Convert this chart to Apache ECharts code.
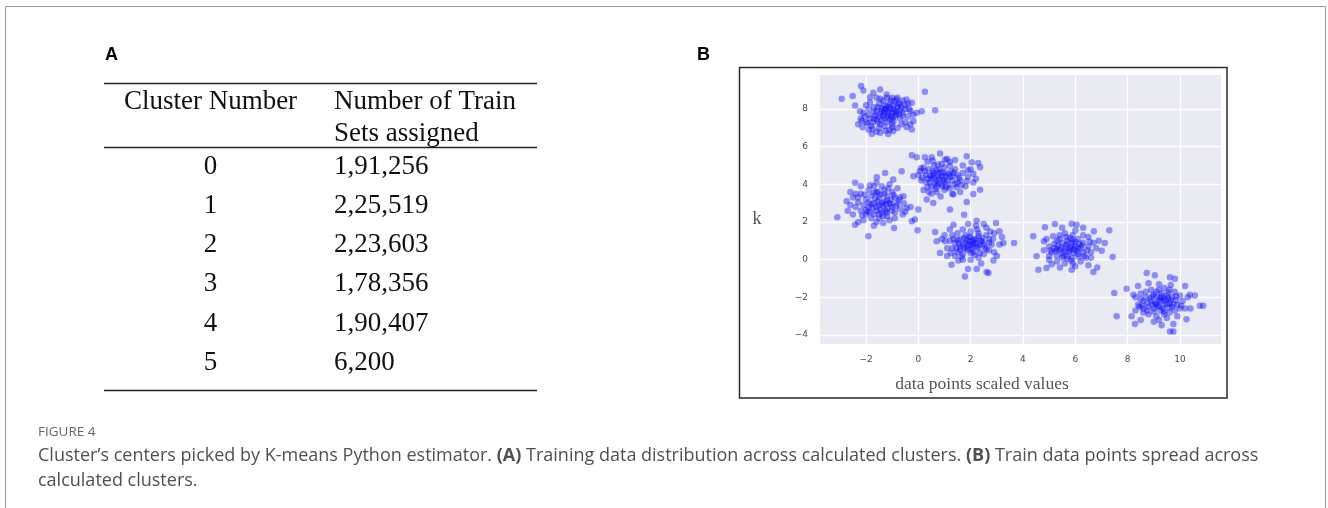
<!DOCTYPE html>
<html>
<head>
<meta charset="utf-8">
<script src="https://cdn.jsdelivr.net/npm/echarts@6/dist/echarts.min.js"></script>
<style>
html,body{margin:0;padding:0;background:#fff;}
#main{width:1328px;height:508px;}
</style>
</head>
<body>
<div id="main"></div>
<script>
// ---------- Panel A table ----------
var clusterNumbers = ['0', '1', '2', '3', '4', '5'];
var trainSets = ['1,91,256', '2,25,519', '2,23,603', '1,78,356', '1,90,407', '6,200'];
var tableHeader = ['Cluster Number', 'Number of Train', 'Sets assigned'];

// ---------- Panel B scatter ----------
var xTicks = [-2, 0, 2, 4, 6, 8, 10];
var yTicks = [-4, -2, 0, 2, 4, 6, 8];

var cluster0 = [[-2.19,9.22],[-2.10,8.99],[-2.51,8.69],[-2.93,8.55],[-1.85,8.63],[-1.46,9.04],[-1.72,8.87],[-1.21,8.78],[-2.42,8.19],[-2.23,7.89],[-2.17,7.36],[-2.13,7.04],[-1.78,6.68],[-1.46,6.74],[-1.15,6.68],[-0.96,6.83],[-0.25,6.91],[-0.19,7.36],[0.13,7.89],[0.25,8.92],[0.64,7.94],[-0.45,8.51],[-0.83,8.51],[-0.25,8.33],[-0.06,7.80],
[-1.5,7.6],[-1.3,7.8],[-1.1,8.0],[-0.9,7.9],[-0.8,8.1],[-1.0,7.5],[-1.2,7.3],[-1.4,7.4],[-1.6,7.9],[-1.7,7.5],[-1.9,7.7],[-2.0,7.3],[-1.8,7.1],[-1.5,7.0],[-1.3,7.1],[-1.0,7.2],[-0.7,7.5],[-0.6,7.8],[-0.5,8.0],[-0.7,8.3],[-0.9,8.4],[-1.1,8.3],[-1.3,8.2],[-1.5,8.3],[-1.7,8.1],[-1.9,8.0],[-2.1,7.8],[-2.2,7.5],[-1.6,8.6],[-1.2,8.6],[-0.8,8.6],[-0.4,8.3],[-0.4,7.6],[-0.5,7.3],[-0.8,7.0],[-1.1,6.9],[-1.6,6.8],[-1.9,6.9],[-2.3,7.2],[-1.4,7.9],[-1.2,7.6],[-1.0,7.8],[-0.9,7.6],[-1.1,8.1],[-1.3,7.5],[-1.45,7.75],[-0.75,7.75],[-0.65,8.1],[-1.55,8.1],[-1.25,8.0],[-0.95,8.2],[-1.75,7.3],[-1.65,7.65],[-2.0,8.2],[-0.3,7.9],[-0.2,7.7],[-0.3,7.2],[-1.35,8.45],[-1.05,8.45],[-0.6,8.45],[-1.85,8.35],[-1.0,7.05],[-1.25,6.85],[-0.65,7.2],[-0.85,7.85],[-1.15,7.7],[-0.95,8.0],[-0.7,7.95],[-1.35,7.65],[-1.6,7.45],[-1.85,7.5],[-1.45,7.2],
[-1.15,7.85],[-0.85,7.7],[-1.05,7.6],[-1.4,8.05],[-0.75,8.25],[-1.2,8.15],[-0.6,7.65],[-1.55,7.3],[-1.7,7.85],[-0.95,7.35],[-1.3,7.95],[-0.5,8.2],[-1.0,8.6],[-1.45,8.55],[-2.05,7.6],[-1.95,7.25],[-0.45,7.05],[-1.75,6.95],[-0.35,8.0],[-1.1,7.45]];

var cluster1 = [[-3.10,2.25],[-2.74,3.10],[-2.42,4.08],[-2.42,1.86],[-1.91,1.24],[-1.59,4.38],[-1.27,4.61],[-0.96,4.26],[-0.64,4.70],[-0.57,3.37],[-0.45,2.75],[-0.93,1.68],[-1.34,1.95],[-0.25,2.04],[-0.13,2.13],[0.0,2.66],[-0.03,1.56],[-2.6,2.9],[-2.5,2.4],[-2.2,3.9],[-2.3,2.0],[-1.7,1.8],[-0.6,2.4],[-0.3,2.8],
[-1.5,2.9],[-1.3,3.1],[-1.1,3.0],[-1.7,3.0],[-1.9,2.8],[-1.6,2.6],[-1.4,2.5],[-1.2,2.7],[-1.0,2.8],[-0.8,3.0],[-0.9,3.3],[-1.2,3.4],[-1.5,3.3],[-1.8,3.4],[-2.0,3.2],[-2.1,2.9],[-2.2,2.6],[-2.0,2.4],[-1.8,2.2],[-1.5,2.2],[-1.2,2.3],[-0.9,2.5],[-0.7,2.7],[-0.7,3.3],[-1.0,3.6],[-1.3,3.7],[-1.6,3.6],[-1.9,3.7],[-2.3,3.3],[-2.4,2.8],[-1.4,3.9],[-1.1,4.0],[-0.8,3.8],[-1.7,3.9],[-2.1,2.1],[-1.6,2.0],[-1.1,2.1],[-0.9,2.2],[-1.35,2.85],[-1.55,3.1],[-1.75,2.75],[-1.25,2.95],[-1.45,2.65],[-1.65,3.25],[-1.05,3.2],[-0.85,2.85],[-1.9,3.05],[-2.0,2.65],[-1.3,3.5],[-1.5,2.4],[-2.2,3.5],[-2.4,3.5],[-2.5,3.3],[-1.85,2.5],[-0.55,3.0],[-1.2,2.5],[-1.45,3.45],[-1.0,2.6],[-1.7,3.55],[-2.15,2.35],
[-1.4,3.0],[-1.6,2.8],[-1.2,3.15],[-1.8,2.95],[-1.05,2.95],[-1.55,3.6],[-1.25,2.6],[-1.95,2.55],[-0.75,3.15],[-1.7,2.4],[-2.3,3.05],[-1.35,2.3],[-0.95,3.45],[-2.05,3.45],[-1.15,3.8],[-1.6,4.1],[-2.6,3.6],[-2.7,2.6],[-0.5,2.55],[-1.85,3.95]];

var cluster2 = [[-0.25,5.55],[-0.06,5.44],[0.25,5.44],[0.51,5.44],[0.83,5.64],[1.02,5.32],[1.85,5.50],[2.04,5.18],[2.29,5.14],[2.36,4.91],[2.10,4.56],[1.85,4.17],[2.36,3.72],[2.10,3.49],[1.85,3.07],[1.21,2.66],[0.57,3.01],[0.32,3.19],[-0.19,4.43],[0.06,4.70],[1.34,3.46],[0.35,5.2],[1.4,5.3],[1.7,5.0],[2.0,4.8],[0.1,4.2],
[0.9,4.4],[0.7,4.2],[0.5,4.3],[0.6,4.6],[0.8,4.8],[1.0,4.6],[1.2,4.4],[1.1,4.2],[0.9,4.0],[0.7,3.9],[0.5,3.9],[0.3,4.1],[0.3,4.5],[0.4,4.8],[0.6,5.0],[0.9,5.1],[1.2,5.0],[1.4,4.8],[1.5,4.5],[1.6,4.2],[1.4,4.0],[1.2,3.8],[1.0,3.7],[0.7,3.6],[0.5,3.5],[0.2,3.7],[0.15,4.35],[0.2,4.9],[1.7,4.6],[1.8,3.9],[1.6,3.6],[1.3,3.5],[0.85,3.35],[0.55,5.25],[1.1,5.35],[0.75,4.45],[0.65,4.05],[1.05,4.45],[0.95,4.25],[0.55,4.5],[1.3,4.2],[1.35,4.6],[0.8,4.6],[0.45,4.1],[1.15,3.95],[0.35,4.3],[1.5,4.1],[1.9,4.4],[1.0,4.9],[0.7,4.75],[1.25,4.7],[0.9,3.9],[0.4,3.6],[1.45,3.85],[2.2,4.3],[0.0,4.5],
[0.8,4.3],[1.0,4.15],[0.6,4.35],[0.9,4.65],[1.15,4.55],[0.75,4.05],[0.55,4.7],[1.3,4.45],[0.45,4.45],[1.05,3.85],[0.65,3.75],[1.55,4.35],[0.25,4.7],[1.2,5.2],[0.75,5.05],[1.65,3.95],[0.35,3.85],[1.9,4.75],[2.1,4.1],[0.1,4.85]];

var cluster3 = [[0.64,1.47],[0.70,0.98],[0.83,0.35],[1.27,-0.27],[1.53,-0.05],[1.78,-0.89],[2.23,-0.50],[2.61,-0.66],[2.68,-0.71],[2.87,-0.05],[3.25,0.89],[3.66,0.89],[3.10,1.51],[2.97,1.95],[2.23,2.07],[1.75,2.39],[1.34,1.86],[1.02,0.98],[0.9,1.1],[1.1,0.2],[3.2,1.2],[3.0,0.2],[2.5,1.9],[1.9,-0.5],
[2.0,0.8],[1.8,0.9],[1.6,0.7],[1.4,0.9],[1.2,1.0],[1.3,0.6],[1.5,0.4],[1.7,0.3],[1.9,0.5],[2.1,0.4],[2.3,0.6],[2.5,0.8],[2.4,1.0],[2.2,1.1],[2.0,1.2],[1.8,1.3],[1.6,1.1],[1.5,1.4],[1.7,1.6],[2.0,1.5],[2.3,1.4],[2.6,1.3],[2.7,1.1],[2.8,0.8],[2.7,0.5],[2.5,0.3],[2.3,0.1],[2.0,0.0],[1.7,0.0],[1.4,0.2],[1.1,0.6],[1.0,1.3],[1.3,1.3],[2.9,1.4],[2.6,1.7],[2.2,1.8],[1.9,1.9],[2.1,0.7],[1.9,0.75],[2.2,0.9],[2.05,1.0],[1.75,0.6],[2.35,0.8],[1.55,0.85],[2.6,0.55],[2.45,1.15],[1.85,1.05],[2.15,0.25],[1.45,0.6],[2.9,0.4],[3.1,0.8],[1.2,1.6],[2.75,1.5],[1.65,0.15],[2.4,-0.2],[2.05,0.55],
[2.1,0.85],[1.95,0.95],[2.25,0.7],[1.7,0.8],[2.15,1.05],[1.85,0.6],[2.45,0.95],[1.6,0.5],[2.3,1.25],[1.95,1.2],[2.55,0.65],[1.35,1.1],[2.7,0.9],[1.75,1.15],[2.0,0.35],[2.25,1.6],[1.5,1.05],[2.85,1.1],[1.25,0.35],[2.35,0.35]];

var cluster4 = [[4.39,1.24],[4.52,0.18],[4.59,-0.53],[4.84,1.72],[4.90,-0.44],[5.22,1.90],[5.86,1.91],[6.05,1.86],[6.71,1.51],[7.30,1.56],[7.13,0.89],[7.01,0.48],[7.43,0.14],[6.84,-0.41],[6.69,-0.66],[5.86,-0.53],[5.41,-0.41],[4.80,0.98],[4.8,0.5],[5.0,0.2],[6.9,1.0],[6.5,-0.3],[5.5,1.7],[6.3,1.7],
[5.8,0.5],[5.6,0.6],[5.4,0.5],[5.2,0.6],[5.0,0.7],[5.1,0.4],[5.3,0.2],[5.5,0.1],[5.7,0.2],[5.9,0.1],[6.1,0.3],[6.3,0.4],[6.2,0.6],[6.0,0.7],[5.9,0.9],[5.7,1.0],[5.5,0.9],[5.3,1.0],[5.4,1.3],[5.6,1.4],[5.9,1.3],[6.1,1.1],[6.3,0.9],[6.5,0.7],[6.6,0.4],[6.4,0.1],[6.2,-0.1],[5.9,-0.2],[5.6,-0.2],[5.3,-0.1],[5.0,0.0],[4.9,1.1],[5.15,1.25],[6.0,1.55],[6.5,1.2],[6.7,0.9],[5.75,0.4],[5.95,0.55],[5.65,0.75],[5.85,0.7],[6.05,0.45],[5.5,0.35],[6.15,0.85],[5.35,0.75],[5.7,0.05],[6.35,0.2],[6.6,0.1],[6.8,0.6],[5.8,1.15],[5.1,-0.25],[6.0,-0.35],[5.25,0.45],
[5.8,0.6],[5.6,0.45],[5.95,0.35],[6.1,0.6],[5.7,0.85],[5.45,0.65],[6.25,0.75],[5.9,1.05],[5.55,0.2],[6.15,0.15],[5.3,0.55],[6.45,0.5],[5.65,1.2],[6.0,0.95],[5.2,0.85],[6.55,0.95],[5.85,-0.05],[5.4,1.1],[6.3,1.3],[5.05,0.5]];

var cluster5 = [[7.49,-1.77],[7.58,-3.01],[7.96,-1.54],[8.73,-0.71],[9.04,-0.83],[9.62,-0.94],[9.81,-1.01],[10.38,-1.86],[10.57,-1.91],[10.76,-2.45],[10.89,-2.45],[10.25,-3.16],[9.75,-3.42],[9.62,-3.81],[9.75,-3.81],[9.30,-3.49],[8.28,-3.42],[8.15,-3.01],[8.22,-1.86],[8.4,-1.4],[10.2,-1.4],[10.4,-2.6],[8.5,-3.2],[9.0,-3.3],
[9.3,-2.2],[9.1,-2.0],[8.9,-2.2],[8.7,-2.0],[8.5,-2.1],[8.4,-2.4],[8.6,-2.6],[8.8,-2.5],[9.0,-2.6],[9.2,-2.5],[9.4,-2.4],[9.6,-2.3],[9.7,-2.0],[9.5,-1.9],[9.3,-1.8],[9.1,-1.7],[8.9,-1.6],[8.7,-1.7],[8.5,-1.8],[9.4,-1.5],[9.6,-1.6],[9.8,-1.7],[10.0,-1.9],[10.1,-2.2],[9.9,-2.4],[9.8,-2.7],[9.6,-2.8],[9.4,-2.9],[9.1,-3.0],[8.8,-2.9],[8.6,-2.8],[8.3,-2.7],[8.3,-2.0],[9.9,-3.0],[9.5,-3.1],[9.2,-3.2],[10.2,-2.6],[10.3,-2.0],[9.25,-2.05],[9.45,-2.15],[9.05,-2.3],[9.35,-2.6],[9.55,-2.05],[8.95,-1.95],[9.15,-2.45],[9.7,-2.5],[8.75,-2.3],[9.65,-1.35],[9.2,-1.3],[8.8,-1.25],[10.05,-2.45],[8.45,-2.5],[9.85,-2.15],[9.0,-2.75],
[9.2,-2.15],[9.4,-2.05],[9.1,-2.35],[9.5,-2.35],[9.3,-1.95],[8.95,-2.4],[9.65,-2.15],[9.25,-2.7],[8.85,-2.05],[9.55,-1.75],[9.75,-2.35],[9.0,-1.85],[8.6,-2.2],[9.85,-1.95],[9.4,-2.75],[8.75,-2.7],[10.0,-2.6],[9.2,-1.6],[8.55,-2.45],[9.6,-2.55]];

var clusters = [cluster0, cluster1, cluster2, cluster3, cluster4, cluster5];

var chart = echarts.init(document.getElementById('main'), null, {renderer: 'canvas'});

function fmtMinus(v) { return v < 0 ? '\u2212' + (-v) : String(v); }

var serif = '"Liberation Serif", "Times New Roman", serif';
var graphics = [];

// outer frame
graphics.push({type: 'rect', shape: {x: 5.5, y: 6.5, width: 1320, height: 520},
  style: {fill: 'none', stroke: '#9a9a9a', lineWidth: 1}, silent: true});
// panel letters
graphics.push({type: 'text', x: 105, y: 55, style: {text: 'A', font: 'bold 18px "Liberation Sans", Arial, sans-serif', fill: '#000', textVerticalAlign: 'middle'}});
graphics.push({type: 'text', x: 697, y: 55, style: {text: 'B', font: 'bold 18px "Liberation Sans", Arial, sans-serif', fill: '#000', textVerticalAlign: 'middle'}});

// table rules
var tblL = 104, tblR = 537;
[83.5, 147.5, 390.5].forEach(function (yy) {
  graphics.push({type: 'line', shape: {x1: tblL, y1: yy, x2: tblR, y2: yy}, style: {stroke: '#222', lineWidth: 1.3}, silent: true});
});
var tFont = '27px ' + serif;
var col1 = 210.5, col2 = 334;
graphics.push({type: 'text', x: col1, y: 102, style: {text: tableHeader[0], font: tFont, fill: '#111', textAlign: 'center', textVerticalAlign: 'middle'}});
graphics.push({type: 'text', x: col2, y: 102, style: {text: tableHeader[1], font: tFont, fill: '#111', textAlign: 'left', textVerticalAlign: 'middle'}});
graphics.push({type: 'text', x: col2, y: 133.5, style: {text: tableHeader[2], font: tFont, fill: '#111', textAlign: 'left', textVerticalAlign: 'middle'}});
for (var i = 0; i < clusterNumbers.length; i++) {
  var ry = 166.5 + i * 39.3;
  graphics.push({type: 'text', x: col1, y: ry, style: {text: clusterNumbers[i], font: tFont, fill: '#111', textAlign: 'center', textVerticalAlign: 'middle'}});
  graphics.push({type: 'text', x: col2, y: ry, style: {text: trainSets[i], font: tFont, fill: '#111', textAlign: 'left', textVerticalAlign: 'middle'}});
}

// plot box
graphics.push({type: 'rect', shape: {x: 739.5, y: 67.5, width: 487.5, height: 330.5},
  style: {fill: 'none', stroke: '#2a2a2a', lineWidth: 1.5}, silent: true});
// axis names
graphics.push({type: 'text', x: 757, y: 219.5, style: {text: 'k', font: '18px ' + serif, fill: '#555', textAlign: 'center', textVerticalAlign: 'middle'}});
graphics.push({type: 'text', x: 982, y: 384.5, style: {text: 'data points scaled values', font: '17.5px ' + serif, fill: '#555', textAlign: 'center', textVerticalAlign: 'middle'}});

// caption
var capFont = '"Open Sans", "Noto Sans", sans-serif';
graphics.push({type: 'text', x: 38, y: 432, style: {text: 'FIGURE 4', font: '13.5px ' + capFont, fill: '#666', textVerticalAlign: 'middle'}});
graphics.push({type: 'text', x: 38, y: 456, style: {
  text: 'Cluster\u2019s centers picked by K-means Python estimator. {b|(A)} Training data distribution across calculated clusters. {b|(B)} Train data points spread across',
  font: '18px ' + capFont, fill: '#505050', textVerticalAlign: 'middle',
  rich: {b: {fontFamily: capFont, fontSize: 18, fontWeight: 'bold', fill: '#505050'}}}});
graphics.push({type: 'text', x: 38, y: 481, style: {text: 'calculated clusters.', font: '18px ' + capFont, fill: '#505050', textVerticalAlign: 'middle'}});

var tickLabelStyle = {color: '#4a4a4a', fontSize: 9, fontFamily: '"DejaVu Sans", sans-serif'};

var option = {
  animation: false,
  backgroundColor: '#fff',
  grid: {left: 820, top: 75, width: 401, height: 269, show: true, backgroundColor: '#eaeaf2', borderWidth: 0},
  xAxis: {
    type: 'value', min: -3.76, max: 11.57,
    axisLine: {show: false},
    axisTick: {show: false, customValues: xTicks},
    axisLabel: Object.assign({customValues: xTicks, margin: 11, formatter: fmtMinus}, tickLabelStyle),
    splitLine: {show: true, lineStyle: {color: '#ffffff', width: 1.3}}
  },
  yAxis: {
    type: 'value', min: -4.48, max: 9.81,
    axisLine: {show: false},
    axisTick: {show: false, customValues: yTicks},
    axisLabel: Object.assign({customValues: yTicks, margin: 12, formatter: fmtMinus}, tickLabelStyle),
    splitLine: {show: true, lineStyle: {color: '#ffffff', width: 1.3}}
  },
  series: clusters.map(function (c) {
    return {type: 'scatter', data: c, symbolSize: 6.5, itemStyle: {color: 'rgba(0,0,255,0.5)'}};
  }),
  graphic: graphics
};
chart.setOption(option);
</script>
</body>
</html>
